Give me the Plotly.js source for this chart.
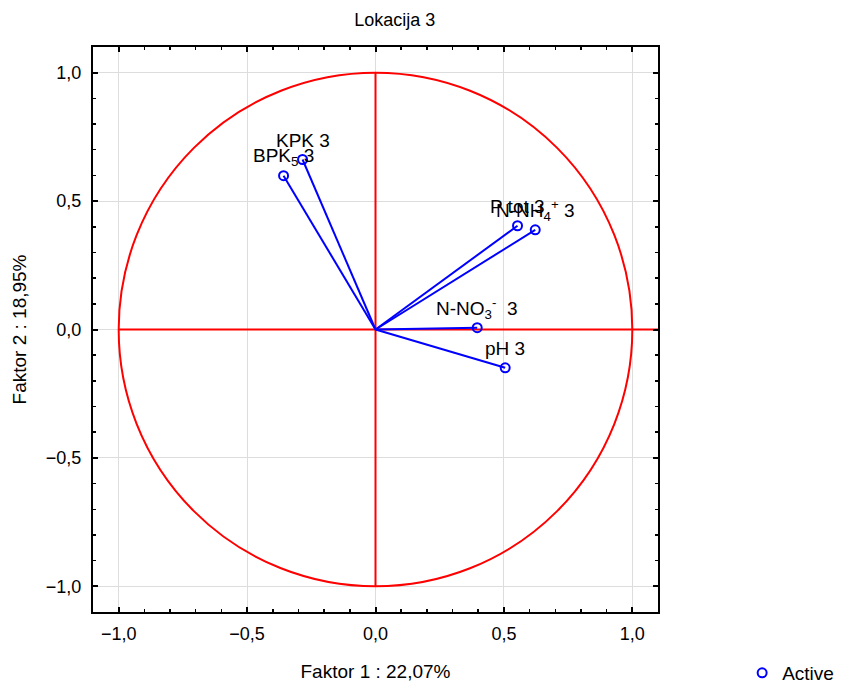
<!DOCTYPE html>
<html>
<head>
<meta charset="utf-8">
<script src="https://cdn.plot.ly/plotly-3.0.1.min.js"></script>
<style>html,body{margin:0;padding:0;background:#fff;}#chart{width:855px;height:685px;}</style>
</head>
<body>
<div id="chart"></div>
<script>
// Variable labels (loadings on Faktor 1 and Faktor 2)
const varLabels = ['KPK 3', 'BPK<sub>5</sub> 3', 'P tot 3', 'N-NH<sub>4</sub><sup>+</sup> 3', 'N-NO<sub>3</sub><sup>-</sup>  3', 'pH 3'];
const factor1 = [-0.284, -0.358, 0.553, 0.622, 0.396, 0.505];
const factor2 = [0.662, 0.599, 0.404, 0.388, 0.007, -0.149];
const xTicks = [-1.0, -0.5, 0.0, 0.5, 1.0];
const yTicks = [-1.0, -0.5, 0.0, 0.5, 1.0];

const FONT = 'Liberation Sans, Arial, sans-serif';

// vectors from origin
const lx = [], ly = [];
for (let i = 0; i < factor1.length; i++) {
  lx.push(0, factor1[i], null);
  ly.push(0, factor2[i], null);
}

const traces = [
  {
    x: lx, y: ly, mode: 'lines', type: 'scatter',
    line: {color: '#0000ff', width: 2}, showlegend: false, hoverinfo: 'skip'
  },
  {
    x: factor1, y: factor2, mode: 'markers', type: 'scatter', name: 'Active',
    marker: {symbol: 'circle-open', size: 9, color: '#0000ff', line: {width: 2, color: '#0000ff'}},
    showlegend: true
  }
];

const annotations = varLabels.map((t, i) => ({
  x: factor1[i], y: factor2[i], xref: 'x', yref: 'y', text: t, showarrow: false,
  yshift: 19, xanchor: 'center', yanchor: 'middle',
  font: {family: FONT, size: 19, color: '#000'}
}));

const axisCommon = {
  range: [-1.1, 1.1],
  automargin: false,
  tickformat: '.1f',
  ticks: 'inside', ticklen: 5, tickwidth: 2, tickcolor: '#000',
  showline: true, linecolor: '#000', linewidth: 2, mirror: 'allticks',
  showgrid: true, gridcolor: '#dddddd', gridwidth: 1,
  zeroline: false,
  minor: {dtick: 0.1, ticks: 'inside', ticklen: 3, tickwidth: 1.5, tickcolor: '#000', showgrid: false},
  tickfont: {family: FONT, size: 18, color: '#000'}
};

const layout = {
  width: 855, height: 685,
  margin: {l: 93, r: 197, t: 47, b: 73},
  paper_bgcolor: '#fff', plot_bgcolor: '#fff',
  separators: ', ',
  font: {family: FONT, color: '#000'},
  title: {text: 'Lokacija 3', x: 0.534, xref: 'paper', y: 0.971, yref: 'container', yanchor: 'middle',
          font: {family: FONT, size: 18, color: '#000'}},
  xaxis: Object.assign({}, axisCommon, {
    tickmode: 'array', tickvals: xTicks, ticklabelstandoff: 4,
    title: {text: 'Faktor 1 : 22,07%', standoff: 22, font: {family: FONT, size: 19, color: '#000'}}
  }),
  yaxis: Object.assign({}, axisCommon, {
    tickmode: 'array', tickvals: yTicks, ticklabelstandoff: 6,
    title: {text: 'Faktor 2 : 18,95%', standoff: 14, font: {family: FONT, size: 19, color: '#000'}}
  }),
  shapes: [
    {type: 'circle', xref: 'x', yref: 'y', x0: -1, x1: 1, y0: -1, y1: 1, line: {color: '#ff0000', width: 2}, layer: 'between'},
    {type: 'line', xref: 'x', yref: 'y', x0: -1, x1: 1.1, y0: 0, y1: 0, line: {color: '#ff0000', width: 2}, layer: 'between'},
    {type: 'line', xref: 'x', yref: 'y', x0: 0, x1: 0, y0: -1, y1: 1, line: {color: '#ff0000', width: 2}, layer: 'between'}
  ],
  annotations: annotations,
  showlegend: true,
  legend: {x: 0.868, xref: 'container', y: 0.0175, yref: 'container', xanchor: 'left', yanchor: 'middle',
           font: {family: FONT, size: 19, color: '#000'}, bgcolor: 'rgba(0,0,0,0)'}
};

Plotly.newPlot('chart', traces, layout, {displayModeBar: false, staticPlot: true});
</script>
</body>
</html>
